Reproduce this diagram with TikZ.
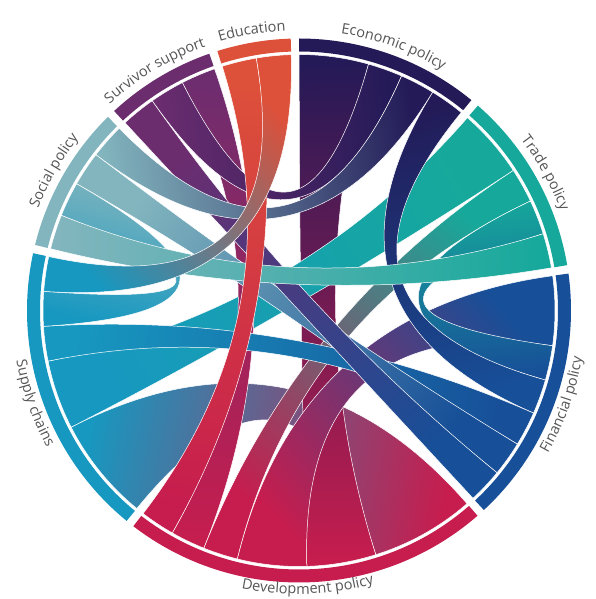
\documentclass[tikz,border=0pt]{standalone}
\usepackage{fontspec}
\setmainfont{Open Sans}
\usetikzlibrary{decorations.text}
\definecolor{cEco}{HTML}{231A57}
\definecolor{cTra}{HTML}{16A99B}
\definecolor{cEdu}{HTML}{DD503A}
\definecolor{cSur}{HTML}{6C2D6F}
\definecolor{cSoc}{HTML}{82B5BE}
\definecolor{cSup}{HTML}{1798C0}
\definecolor{cDev}{HTML}{C61D4E}
\definecolor{cFin}{HTML}{174F98}
\definecolor{lblgray}{HTML}{555555}
\newcommand\lblfont{\fontsize{14.5}{17}\selectfont}
\newcommand\chordrib[6]{%
  \pgfmathsetmacro\ma{(#1+#2)/2}%
  \pgfmathsetmacro\mb{(#3+#4)/2}%
  \pgfmathsetmacro\sa{atan2(sin(\mb)-sin(\ma),cos(\mb)-cos(\ma))-90}%
  \path[chordline,bottom color=#5,top color=#6,shading angle=\sa]
    (#1:\R) arc[start angle=#1,end angle=#2,radius=\R]
    .. controls (#2:\Rc) and (#3:\Rc) .. (#3:\R)
    arc[start angle=#3,end angle=#4,radius=\R]
    .. controls (#4:\Rc) and (#1:\Rc) .. (#1:\R) -- cycle;}
\newcommand\ringseg[3]{%
  \fill[#3] (#1:272) arc[start angle=#1,end angle=#2,radius=272]
    -- (#2:259) arc[start angle=#2,end angle=#1,radius=259] -- cycle;}
\newcommand\toplabel[2]{%
  \path[decorate,decoration={text along path,text align=center,text color=lblgray,
    text={|\lblfont|#2}}] (#1+40:280) arc[start angle=#1+40,end angle=#1-40,radius=280];}
\newcommand\botlabel[3]{%
  \path[decorate,decoration={text along path,text align=center,text color=lblgray,
    text={|\lblfont|#2}}] (#1-40:#3) arc[start angle=#1-40,end angle=#1+40,radius=#3];}
\begin{document}
\begin{tikzpicture}[x=1pt,y=1pt,chordline/.style={draw=white,line width=0.5pt}]
\useasboundingbox (-299,-288.5) rectangle (297,310.5);
\def\R{256}
\def\Rc{85.33}
% ring
\ringseg{9.60}{48.87}{cTra}
\ringseg{50.67}{89.95}{cEco}
\ringseg{91.75}{107.46}{cEdu}
\ringseg{109.26}{132.82}{cSur}
\ringseg{134.62}{166.04}{cSoc}
\ringseg{167.84}{230.68}{cSup}
\ringseg{232.48}{311.02}{cDev}
\ringseg{312.82}{367.80}{cFin}
% chords
\chordrib{207.12}{230.68}{287.46}{311.02}{cSup}{cDev}
\chordrib{74.24}{89.95}{271.75}{287.46}{cEco}{cDev}
\chordrib{33.16}{48.87}{191.41}{207.12}{cTra}{cSup}
\chordrib{256.04}{271.75}{352.09}{367.80}{cDev}{cFin}
\chordrib{109.26}{117.11}{240.33}{248.19}{cSur}{cDev}
\chordrib{25.31}{33.16}{248.19}{256.04}{cTra}{cDev}
\chordrib{17.45}{25.31}{344.24}{352.09}{cTra}{cFin}
\chordrib{50.67}{58.53}{336.38}{344.24}{cEco}{cFin}
\chordrib{183.55}{191.41}{328.53}{336.38}{cSup}{cFin}
\chordrib{142.48}{150.33}{320.67}{328.53}{cSoc}{cFin}
\chordrib{124.97}{132.82}{312.82}{320.67}{cSur}{cFin}
\chordrib{66.38}{74.24}{117.11}{124.97}{cEco}{cSur}
\chordrib{58.53}{66.38}{134.62}{142.48}{cEco}{cSoc}
\chordrib{150.33}{158.19}{175.70}{183.55}{cSoc}{cSup}
\chordrib{9.60}{17.45}{158.19}{166.04}{cTra}{cSoc}
\chordrib{99.60}{107.46}{232.48}{240.33}{cEdu}{cDev}
\chordrib{91.75}{99.60}{167.84}{175.70}{cEdu}{cSup}
% labels
\toplabel{29.2}{Trade policy}
\toplabel{70.3}{Economic policy}
\toplabel{99.6}{Education}
\toplabel{121.0}{Survivor support}
\toplabel{150.3}{Social policy}
\botlabel{199.3}{Supply chains}{287}
\botlabel{271.8}{Development policy}{283.5}
\botlabel{340.3}{Financial policy}{287}
\end{tikzpicture}
\end{document}
